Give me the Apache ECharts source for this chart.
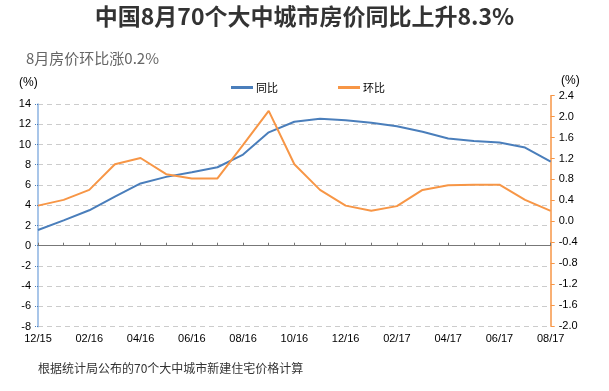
<!DOCTYPE html>
<html>
<head>
<meta charset="utf-8">
<script src="https://cdn.jsdelivr.net/npm/echarts@6/dist/echarts.min.js"></script>
<style>html,body{margin:0;padding:0;background:#fff}#c{width:609px;height:391px}</style>
</head>
<body>
<div id="c"></div>
<script>
const months = ['12/15','01/16','02/16','03/16','04/16','05/16','06/16','07/16','08/16','09/16','10/16','11/16','12/16','01/17','02/17','03/17','04/17','05/17','06/17','07/17','08/17'];
const yoy = [1.55, 2.5, 3.5, 4.85, 6.15, 6.8, 7.25, 7.75, 9.0, 11.2, 12.25, 12.55, 12.4, 12.15, 11.8, 11.25, 10.6, 10.35, 10.2, 9.7, 8.3];
const mom = [0.30, 0.41, 0.60, 1.09, 1.21, 0.90, 0.82, 0.82, 1.46, 2.11, 1.09, 0.60, 0.30, 0.20, 0.29, 0.60, 0.69, 0.70, 0.70, 0.41, 0.20];
const seriesNames = ['同比', '环比'];
const titleText = '中国8月70个大中城市房价同比上升8.3%';
const subText = '8月房价环比涨0.2%';
const noteText = '根据统计局公布的70个大中城市新建住宅价格计算';

const BLUE = '#4a7ebb', ORANGE = '#f79646';
const cjk = "'Noto Sans CJK SC', sans-serif";
const lat = "'Liberation Sans', Arial, sans-serif";

const chart = echarts.init(document.getElementById('c'), null, {renderer: 'canvas'});
chart.setOption({
  animation: false,
  backgroundColor: '#fff',
  title: [
    {text: titleText, left: 'center', top: 0, textStyle: {fontFamily: cjk, fontSize: 23, fontWeight: 'bold', color: '#333'}},
    {text: subText, left: 21, top: 46, textStyle: {fontFamily: cjk, fontSize: 15, fontWeight: 'normal', color: '#666'}}
  ],
  legend: {
    left: 226, top: 77, itemGap: 60, itemWidth: 22, itemHeight: 3, icon: 'rect',
    textStyle: {fontFamily: cjk, fontSize: 11, color: '#000', padding: [0,0,0,-2]},
    data: seriesNames
  },
  grid: [
    {left: 38, right: 58.3, top: 104, bottom: 64.3},
    {left: 38, right: 58.3, top: 95.7, bottom: 65}
  ],
  xAxis: [
    {gridIndex: 0, type: 'category', data: months, boundaryGap: false,
     axisLine: {onZero: true, lineStyle: {color: '#777', width: 1}},
     axisTick: {show: true, inside: true, length: 3, interval: 0, lineStyle: {color: '#777'}},
     axisLabel: {show: false}, splitLine: {show: false}},
    {gridIndex: 1, type: 'category', data: months, boundaryGap: false, position: 'bottom',
     axisLine: {show: false, onZero: false}, axisTick: {show: false},
     axisLabel: {show: true, interval: 1, margin: 7, fontFamily: lat, fontSize: 11, color: '#000'},
     splitLine: {show: false}}
  ],
  yAxis: [
    {gridIndex: 0, type: 'value', min: -8, max: 14, interval: 2, position: 'left',
     axisLine: {show: true, lineStyle: {color: '#8db3e2', width: 1.5}},
     axisTick: {show: true, length: 3, lineStyle: {color: '#4a7ebb', type: 'dotted'}},
     axisLabel: {margin: 7, fontFamily: lat, fontSize: 11, color: '#000'},
     splitLine: {show: true, lineStyle: {color: '#ccc', type: [5, 4]}}},
    {gridIndex: 1, type: 'value', min: -2.0, max: 2.4, interval: 0.4, position: 'right',
     axisLine: {show: true, lineStyle: {color: ORANGE, width: 1.5}},
     axisTick: {show: true, length: 4, lineStyle: {color: ORANGE}},
     axisLabel: {margin: 8, fontFamily: lat, fontSize: 11, color: '#000',
                 formatter: v => v.toFixed(1)},
     splitLine: {show: false}}
  ],
  series: [
    {name: seriesNames[0], type: 'line', xAxisIndex: 0, yAxisIndex: 0, data: yoy,
     showSymbol: false, symbol: 'none', lineStyle: {color: BLUE, width: 2}, itemStyle: {color: BLUE}},
    {name: seriesNames[1], type: 'line', xAxisIndex: 1, yAxisIndex: 1, data: mom,
     showSymbol: false, symbol: 'none', lineStyle: {color: ORANGE, width: 2}, itemStyle: {color: ORANGE}}
  ],
  graphic: [
    {type: 'text', left: 19, top: 77, style: {text: '(%)', font: "12px 'Liberation Sans', Arial", fill: '#000'}},
    {type: 'text', left: 561, top: 75, style: {text: '(%)', font: "12px 'Liberation Sans', Arial", fill: '#000'}},
    {type: 'text', left: 38, top: 362, style: {text: noteText, font: "12px 'Noto Sans CJK SC'", fill: '#333'}}
  ]
});
</script>
</body>
</html>
